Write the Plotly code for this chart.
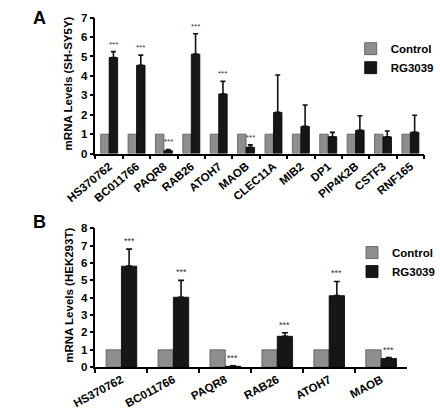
import plotly.graph_objects as go

# Panel A data (SH-SY5Y)
genes_a = ["HS370762", "BC011766", "PAQR8", "RAB26", "ATOH7", "MAOB", "CLEC11A",
           "MIB2", "DP1", "PIP4K2B", "CSTF3", "RNF165"]
ctrl_a = [1, 1, 1, 1, 1, 1, 1, 1, 1, 1, 1, 1]
rg_a = [4.95, 4.55, 0.15, 5.12, 3.07, 0.32, 2.12, 1.4, 0.87, 1.2, 0.86, 1.1]
rg_a_err = [0.3, 0.52, 0.06, 1.05, 0.65, 0.13, 1.93, 1.1, 0.22, 0.75, 0.3, 0.87]
sig_a = ["***", "***", "***", "***", "***", "***", "", "", "", "", "", ""]

# Panel B data (HEK293T)
genes_b = ["HS370762", "BC011766", "PAQR8", "RAB26", "ATOH7", "MAOB"]
ctrl_b = [1, 1, 1, 1, 1, 1]
rg_b = [5.82, 4.03, 0.05, 1.78, 4.12, 0.5]
rg_b_err = [0.98, 0.97, 0.03, 0.2, 0.82, 0.05]
sig_b = ["***", "***", "***", "***", "***", "***"]

CTRL_COL = "#8e8e8e"
RG_COL = "#161616"
FONT = "Arial, Liberation Sans, sans-serif"

W_A = 0.31
W_B = 0.295

fig = go.Figure()

fig.add_trace(go.Bar(x=genes_a, y=ctrl_a, name="Control", width=W_A, offset=-W_A,
                     marker=dict(color=CTRL_COL, line=dict(color="#555555", width=0.8)),
                     xaxis="x", yaxis="y", legend="legend"))
fig.add_trace(go.Bar(x=genes_a, y=rg_a, name="RG3039", width=W_A, offset=0,
                     marker=dict(color=RG_COL, line=dict(color="#000000", width=0.8)),
                     error_y=dict(type="data", array=rg_a_err, arrayminus=[0]*len(rg_a),
                                  symmetric=False, color="#111111", thickness=1.6, width=2.5),
                     xaxis="x", yaxis="y", legend="legend"))

fig.add_trace(go.Bar(x=genes_b, y=ctrl_b, name="Control", width=W_B, offset=-W_B,
                     marker=dict(color=CTRL_COL, line=dict(color="#555555", width=0.8)),
                     xaxis="x2", yaxis="y2", legend="legend2"))
fig.add_trace(go.Bar(x=genes_b, y=rg_b, name="RG3039", width=W_B, offset=0,
                     marker=dict(color=RG_COL, line=dict(color="#000000", width=0.8)),
                     error_y=dict(type="data", array=rg_b_err, arrayminus=[0]*len(rg_b),
                                  symmetric=False, color="#111111", thickness=1.6, width=3),
                     xaxis="x2", yaxis="y2", legend="legend2"))

annotations = []
for i, s in enumerate(sig_a):
    if s:
        annotations.append(dict(x=i + W_A / 2, y=rg_a[i] + rg_a_err[i], xref="x", yref="y",
                                text=s, showarrow=False, yanchor="bottom", yshift=1,
                                font=dict(size=8, color="#333333", family=FONT)))
for i, s in enumerate(sig_b):
    if s:
        annotations.append(dict(x=i + W_B / 2, y=rg_b[i] + rg_b_err[i], xref="x2", yref="y2",
                                text=s, showarrow=False, yanchor="bottom", yshift=1,
                                font=dict(size=9, color="#333333", family=FONT)))
annotations.append(dict(x=0.0, y=1 - 12 / 412, xref="paper", yref="paper", text="A",
                        showarrow=False, xanchor="left", yanchor="middle",
                        font=dict(size=18, color="#000", family=FONT, weight="bold")))
annotations.append(dict(x=0.0, y=1 - 222 / 412, xref="paper", yref="paper", text="B",
                        showarrow=False, xanchor="left", yanchor="middle",
                        font=dict(size=18, color="#000", family=FONT, weight="bold")))
# y-axis titles
annotations.append(dict(x=41 / 440, y=1 - 80 / 412, xref="paper", yref="paper",
                        text="mRNA Levels (SH-SY5Y)", textangle=-90, showarrow=False,
                        xanchor="center", yanchor="middle",
                        font=dict(size=11.5, color="#000", family=FONT, weight="bold")))
annotations.append(dict(x=43 / 440, y=1 - 298 / 412, xref="paper", yref="paper",
                        text="mRNA Levels (HEK293T)", textangle=-90, showarrow=False,
                        xanchor="center", yanchor="middle",
                        font=dict(size=11.5, color="#000", family=FONT, weight="bold")))

axis_common = dict(showline=True, linecolor="#000", linewidth=1.5, ticks="outside",
                   ticklen=4, tickwidth=1.5, tickcolor="#000", showgrid=False, zeroline=False,
                   tickfont=dict(size=11.5, family=FONT, color="#000", weight="bold"))

fig.update_layout(
    width=440, height=412, margin=dict(l=0, r=0, t=0, b=0),
    paper_bgcolor="white", plot_bgcolor="white", barmode="overlay",
    font=dict(family=FONT, color="#000"),
    xaxis=dict(domain=[72 / 440, 439 / 440], anchor="y", type="category",
               range=[-0.5, 11.5], tickson="boundaries", tickangle=-40, **axis_common),
    yaxis=dict(domain=[1 - 152 / 412, 1 - 12 / 412], anchor="x", range=[0, 7], dtick=1,
               **axis_common),
    xaxis2=dict(domain=[72 / 440, 420 / 440], anchor="y2", type="category",
                range=[-0.5, 5.5], tickson="boundaries", tickangle=-28, **axis_common),
    yaxis2=dict(domain=[1 - 372 / 412, 1 - 229 / 412], anchor="x2", range=[0, 8], dtick=1,
                **axis_common),
    legend=dict(x=357 / 440, y=1 - 29 / 412, xanchor="left", yanchor="top",
                bgcolor="rgba(0,0,0,0)",
                font=dict(size=11.5, family=FONT, weight="bold")),
    legend2=dict(x=359 / 440, y=1 - 239 / 412, xanchor="left", yanchor="top",
                 bgcolor="rgba(0,0,0,0)",
                 font=dict(size=11.5, family=FONT, weight="bold")),
    annotations=annotations,
    showlegend=True,
)

fig.write_html("out.html")
